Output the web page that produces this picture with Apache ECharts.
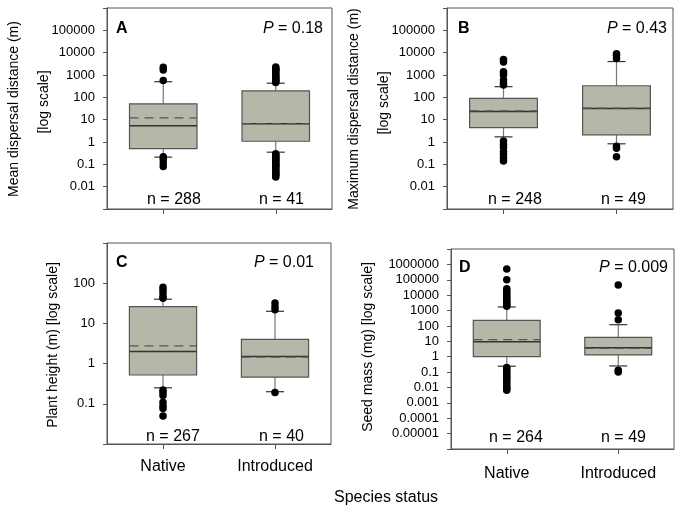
<!DOCTYPE html>
<html>
<head>
<meta charset="utf-8">
<script src="https://cdn.jsdelivr.net/npm/echarts@6/dist/echarts.min.js"></script>
<style>
  html, body { margin: 0; padding: 0; background: #fff; }
  #chart { width: 683px; height: 514px; }
</style>
</head>
<body>
<div id="chart"></div>
<script>
// ---------------- DATA ----------------
const categories = ['Native', 'Introduced'];

// Panel A: Mean dispersal distance (m)
const aLow    = [0.21, 0.35];
const aQ1     = [0.5, 1.08];
const aMedian = [5.4, 6.6];
const aQ3     = [51, 195];
const aHigh   = [500, 430];
const aMean   = [12, 6.6];
const aOutNative = [2200, 1670, 560, 0.22, 0.17, 0.115, 0.08];
const aOutIntroduced = [2300, 2000, 1800, 1600, 1400, 1200, 1000, 900, 800, 700, 600, 550, 500, 460,
  0.3, 0.27, 0.24, 0.21, 0.19, 0.17, 0.15, 0.13, 0.11, 0.1, 0.09, 0.08, 0.07, 0.06, 0.052, 0.045, 0.04, 0.035, 0.031, 0.027];
const aTicks = ['0.01', '0.1', '1', '10', '100', '1000', '10000', '100000'];
const aN = ['n = 288', 'n = 41'];
const aP = '0.18';

// Panel B: Maximum dispersal distance (m)
const bLow    = [1.7, 0.83];
const bQ1     = [4.4, 2.1];
const bMedian = [23, 32];
const bQ3     = [90, 330];
const bHigh   = [300, 4000];
const bMean   = [25, 33];
const bOutNative = [5000, 3800, 1400, 1250, 1000, 600, 440, 360, 1.1, 0.78, 0.58, 0.38, 0.28, 0.2, 0.14];
const bOutIntroduced = [9000, 7700, 5500, 0.65, 0.52, 0.22];
const bTicks = ['0.01', '0.1', '1', '10', '100', '1000', '10000', '100000'];
const bN = ['n = 248', 'n = 49'];
const bP = '0.43';

// Panel C: Plant height (m)
const cLow    = [0.25, 0.2];
const cQ1     = [0.52, 0.46];
const cMedian = [2.0, 1.5];
const cQ3     = [26, 4.0];
const cHigh   = [40, 20];
const cMean   = [2.75, 1.45];
const cOutNative = [79, 68, 57, 47, 42, 0.22, 0.19, 0.16, 0.11, 0.09, 0.076, 0.05];
const cOutIntroduced = [32, 26, 22, 0.19];
const cTicks = ['0.1', '1', '10', '100'];
const cN = ['n = 267', 'n = 40'];
const cP = '0.01';

// Panel D: Seed mass (mg)
const dLow    = [0.24, 0.25];
const dQ1     = [1.0, 1.3];
const dMedian = [9.2, 3.8];
const dQ3     = [230, 18];
const dHigh   = [1700, 120];
const dMean   = [13, 3.5];
const dOutNative = [500000, 100000, 26000, 20000, 15000, 11000, 8000, 6000, 4500, 3500, 2800, 2300, 1900,
  0.2, 0.15, 0.11, 0.08, 0.06, 0.045, 0.035, 0.025, 0.018, 0.013, 0.01, 0.008, 0.0065];
const dOutIntroduced = [45000, 700, 250, 0.13, 0.1];
const dTicks = ['0.00001', '0.0001', '0.001', '0.01', '0.1', '1', '10', '100', '1000', '10000', '100000', '1000000'];
const dN = ['n = 264', 'n = 49'];
const dP = '0.009';

// ---------------- BUILD ----------------
const FONT = '"Liberation Sans", Arial, Helvetica, sans-serif';
const BOX_FILL = '#b6b6a9';
const FRAME = '#555';

function boxRows(low, q1, med, q3, high, mean) {
  return categories.map((c, i) => [i, low[i], q1[i], med[i], q3[i], high[i], mean[i]]);
}
function outRows(nat, intro) {
  return nat.map(v => [0, v]).concat(intro.map(v => [1, v]));
}
function fmt(v) { return String(Number(Number(v).toPrecision(6))); }

function renderBox(params, api) {
  const x = api.value(0);
  const pLow = api.coord([x, api.value(1)]);
  const pQ1 = api.coord([x, api.value(2)]);
  const pMed = api.coord([x, api.value(3)]);
  const pQ3 = api.coord([x, api.value(4)]);
  const pHigh = api.coord([x, api.value(5)]);
  const pMean = api.coord([x, api.value(6)]);
  const band = api.size([1, 1])[0];
  const hw = band * 0.3;
  const cw = 9;
  const cx = pQ1[0];
  return {
    type: 'group',
    children: [
      { type: 'line', shape: { x1: cx, y1: pQ1[1], x2: cx, y2: pLow[1] }, style: { stroke: '#777', lineWidth: 1.2 } },
      { type: 'line', shape: { x1: cx, y1: pQ3[1], x2: cx, y2: pHigh[1] }, style: { stroke: '#777', lineWidth: 1.2 } },
      { type: 'line', shape: { x1: cx - cw, y1: pLow[1], x2: cx + cw, y2: pLow[1] }, style: { stroke: '#333', lineWidth: 1.2 } },
      { type: 'line', shape: { x1: cx - cw, y1: pHigh[1], x2: cx + cw, y2: pHigh[1] }, style: { stroke: '#333', lineWidth: 1.2 } },
      { type: 'rect', shape: { x: cx - hw, y: pQ3[1], width: 2 * hw, height: pQ1[1] - pQ3[1] },
        style: { fill: BOX_FILL, stroke: '#555', lineWidth: 1.2 } },
      { type: 'line', shape: { x1: cx - hw, y1: pMed[1], x2: cx + hw, y2: pMed[1] }, style: { stroke: '#333', lineWidth: 1.5 } },
      { type: 'line', shape: { x1: cx - hw, y1: pMean[1], x2: cx + hw, y2: pMean[1] },
        style: { stroke: '#555', lineWidth: 1.3, lineDash: [9, 6] } }
    ]
  };
}

const panels = [
  { grid: { left: 107, top: 8, width: 225, height: 201 }, min: 0.001, max: 1000000, ticks: aTicks, showX: false,
    box: boxRows(aLow, aQ1, aMedian, aQ3, aHigh, aMean), out: outRows(aOutNative, aOutIntroduced) },
  { grid: { left: 447, top: 8, width: 226, height: 201 }, min: 0.001, max: 1000000, ticks: bTicks, showX: false,
    box: boxRows(bLow, bQ1, bMedian, bQ3, bHigh, bMean), out: outRows(bOutNative, bOutIntroduced) },
  { grid: { left: 107, top: 243, width: 224, height: 201 }, min: 0.01, max: 1000, ticks: cTicks, showX: true, margin: 15,
    box: boxRows(cLow, cQ1, cMedian, cQ3, cHigh, cMean), out: outRows(cOutNative, cOutIntroduced) },
  { grid: { left: 451, top: 249, width: 223, height: 200 }, min: 0.000001, max: 10000000, ticks: dTicks, showX: true, margin: 17,
    box: boxRows(dLow, dQ1, dMedian, dQ3, dHigh, dMean), out: outRows(dOutNative, dOutIntroduced) }
];

const option = {
  animation: false,
  backgroundColor: '#fff',
  textStyle: { fontFamily: FONT },
  grid: panels.map(p => Object.assign({ show: true, borderColor: FRAME, borderWidth: 1, backgroundColor: 'transparent' }, p.grid)),
  xAxis: panels.map((p, i) => ({
    type: 'category', gridIndex: i, data: categories, boundaryGap: true,
    axisLine: { show: true, lineStyle: { color: FRAME } },
    axisTick: { show: true, alignWithLabel: true, length: 5, lineStyle: { color: FRAME } },
    axisLabel: { show: p.showX, fontSize: 16, color: '#000', fontFamily: FONT, margin: p.margin || 14 },
    splitLine: { show: false }
  })),
  yAxis: panels.map((p, i) => ({
    type: 'log', logBase: 10, gridIndex: i, min: p.min, max: p.max, interval: 1,
    axisLine: { show: true, lineStyle: { color: FRAME } },
    axisTick: { show: true, length: 4, lineStyle: { color: FRAME } },
    axisLabel: {
      fontSize: 13, color: '#000', fontFamily: FONT, margin: 12, hideOverlap: false, interval: 0,
      showMinLabel: true, showMaxLabel: true,
      formatter: (v) => { const s = fmt(v); return p.ticks.indexOf(s) >= 0 ? s : ''; }
    },
    splitLine: { show: false }, minorTick: { show: false }
  })),
  series: [].concat(...panels.map((p, i) => [
    { type: 'custom', xAxisIndex: i, yAxisIndex: i, data: p.box, renderItem: renderBox,
      encode: { x: 0, y: [1, 2, 3, 4, 5, 6] }, z: 2 },
    { type: 'scatter', xAxisIndex: i, yAxisIndex: i, data: p.out, symbol: 'circle', symbolSize: 7.5,
      itemStyle: { color: '#000', opacity: 1 }, z: 3 }
  ])),
  graphic: []
};

function txt(x, y, text, opts) {
  return Object.assign({ type: 'text', x: x, y: y, silent: true, z: 100,
    style: Object.assign({ text: text, fill: '#000', fontFamily: FONT, fontSize: 16, verticalAlign: 'middle', align: 'left' }, opts || {}) });
}
function ptxt(xRight, y, val) {
  return txt(xRight, y, '{i|P} = ' + val, { align: 'right',
    rich: { i: { fontStyle: 'italic', fontFamily: FONT, fontSize: 16, fill: '#000' } } });
}
function rot(x, y, text) {
  const t = txt(x, y, text, { align: 'center', fontSize: 14 });
  t.rotation = Math.PI / 2;
  return t;
}

option.graphic = [
  // panel letters
  txt(116, 29, 'A', { fontWeight: 'bold' }),
  txt(458, 29, 'B', { fontWeight: 'bold' }),
  txt(116, 263, 'C', { fontWeight: 'bold' }),
  txt(459, 268, 'D', { fontWeight: 'bold' }),
  // P values
  ptxt(323, 29, aP),
  ptxt(667, 29, bP),
  ptxt(314, 263, cP),
  ptxt(668, 268, dP),
  // n labels
  txt(147, 200, aN[0]), txt(259, 200, aN[1]),
  txt(488, 200, bN[0]), txt(601, 200, bN[1]),
  txt(146, 437, cN[0]), txt(259, 437, cN[1]),
  txt(489, 438, dN[0]), txt(601, 438, dN[1]),
  // y-axis titles
  rot(14, 109, 'Mean dispersal distance (m)'),
  rot(44, 102, '[log scale]'),
  rot(354, 109, 'Maximum dispersal distance (m)'),
  rot(384, 103, '[log scale]'),
  rot(53, 345, 'Plant height (m) [log scale]'),
  rot(368, 347, 'Seed mass (mg) [log scale]'),
  // x-axis title
  txt(386, 498, 'Species status', { align: 'center' })
];

const chart = echarts.init(document.getElementById('chart'), null, { renderer: 'canvas', width: 683, height: 514 });
chart.setOption(option);
</script>
</body>
</html>
